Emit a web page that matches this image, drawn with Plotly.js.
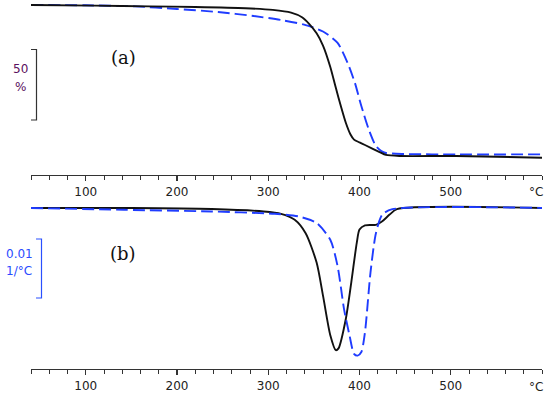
<!DOCTYPE html>
<html>
<head>
<meta charset="utf-8">
<script src="https://cdn.plot.ly/plotly-3.0.1.min.js"></script>
<style>html,body{margin:0;padding:0;background:#fff;}#chart{width:550px;height:397px;}</style>
</head>
<body>
<div id="chart"></div>
<script>
// (a) TG curves: temperature (°C) and residual mass (%)
var tgTempBlack = [40, 110, 170, 220, 275, 305, 325, 337, 345, 353, 360, 368, 374, 380, 385, 390, 394, 400, 406, 422, 429, 445, 506, 600];
var tgMassBlack = [100, 99.6, 99.1, 98.7, 97.9, 96.8, 95.0, 92.0, 87.5, 81.5, 73.5, 59.5, 46.0, 33.0, 23.0, 15.5, 12.0, 10.2, 8.5, 3.9, 2.0, 1.3, 1.3, 0.2];
var tgTempBlue = [40, 100, 154, 200, 245, 284, 314, 341, 360, 376, 387, 395, 402, 410, 418, 424, 429, 448, 506, 600];
var tgMassBlue = [100, 99.8, 99.1, 97.4, 95.4, 92.8, 90.2, 86.9, 82.7, 75.2, 62.1, 49.0, 34.0, 18.9, 7.8, 4.5, 3.3, 2.6, 2.35, 2.35];

// (b) DTG curves: temperature (°C) and derivative (1/°C)
var dtgTempBlack = [40, 150, 238, 295, 314, 329, 341, 353, 360, 368, 374, 377, 385, 391, 397, 400, 406, 418, 425, 433, 441, 600];
var dtgBlack = [0, 0, -0.00017, -0.00058, -0.00097, -0.00195, -0.0042, -0.0091, -0.0146, -0.0212, -0.0237, -0.0234, -0.0185, -0.0124, -0.0058, -0.0036, -0.0029, -0.0028, -0.0022, -0.0011, -0.0002, 0];
var dtgTempBlue = [40, 142, 238, 307, 333, 353, 368, 376, 383, 389, 394, 398, 402, 406, 412, 418, 425, 436, 600];
var dtgBlue = [0, -0.0003, -0.00058, -0.00097, -0.0014, -0.0025, -0.0053, -0.0097, -0.0168, -0.0212, -0.0243, -0.0246, -0.0240, -0.0207, -0.0108, -0.0042, -0.0011, -0.0002, 0];

// tick labels
var tickValues = [100, 200, 300, 400, 500];
var tickLabels = ["100", "200", "300", "400", "500"];
var unitLabel = "°C";

var W = 550, H = 397;
function px(X) { return X / W; }
function py(Y) { return 1 - Y / H; }

var BLACK = "#111111";
var BLUE = "#1f3cff";

var blackLine = { color: BLACK, width: 1.9, shape: "spline", smoothing: 0.7 };
var blueLine = { color: BLUE, width: 1.9, dash: "12px,5px", shape: "spline", smoothing: 0.7 };

var traces = [
  { x: tgTempBlue, y: tgMassBlue, xaxis: "x", yaxis: "y", mode: "lines", line: blueLine, hoverinfo: "skip" },
  { x: tgTempBlack, y: tgMassBlack, xaxis: "x", yaxis: "y", mode: "lines", line: blackLine, hoverinfo: "skip" },
  { x: dtgTempBlack, y: dtgBlack, xaxis: "x2", yaxis: "y2", mode: "lines", line: blackLine, hoverinfo: "skip" },
  { x: dtgTempBlue, y: dtgBlue, xaxis: "x2", yaxis: "y2", mode: "lines", line: blueLine, hoverinfo: "skip" }
];

function xaxisDef(anchor) {
  return {
    domain: [px(31), px(542)],
    range: [40, 600],
    anchor: anchor,
    showgrid: false, zeroline: false,
    showline: true, linecolor: "#333", linewidth: 1.2,
    ticks: "outside", ticklen: 5, tickwidth: 1.1, tickcolor: "#333",
    tickvals: tickValues, ticktext: tickLabels,
    tickfont: { family: "DejaVu Sans", size: 12, color: "#222" },
    minor: { tick0: 40, dtick: 20, ticks: "outside", ticklen: 3.5, tickwidth: 1, tickcolor: "#333", showgrid: false }
  };
}
function yaxisDef(domain, range, anchor) {
  return {
    domain: domain, range: range, anchor: anchor,
    showgrid: false, zeroline: false, showline: false, showticklabels: false, ticks: ""
  };
}

// pixel mapping: TG 100% at y=5px, 1.53 px per %; DTG 0 at y=208px, 6000 px per 1/°C
var layout = {
  width: W, height: H,
  margin: { l: 0, r: 0, t: 0, b: 0 },
  paper_bgcolor: "#fff", plot_bgcolor: "#fff",
  showlegend: false,
  xaxis: xaxisDef("y"),
  yaxis: yaxisDef([py(175), 1], [100 - 170 / 1.53, 100 + 5 / 1.53], "x"),
  xaxis2: xaxisDef("y2"),
  yaxis2: yaxisDef([py(369), py(195)], [-161 / 6000, 13 / 6000], "x2"),
  shapes: [
    { type: "path", xref: "paper", yref: "paper",
      path: "M " + px(31) + "," + py(49.5) + " L " + px(36.5) + "," + py(49.5) + " L " + px(36.5) + "," + py(120) + " L " + px(31) + "," + py(120),
      line: { color: "#333", width: 1.2 } },
    { type: "path", xref: "paper", yref: "paper",
      path: "M " + px(36) + "," + py(239) + " L " + px(41.5) + "," + py(239) + " L " + px(41.5) + "," + py(298) + " L " + px(36) + "," + py(298),
      line: { color: "#2a50ff", width: 1.2 } }
  ],
  annotations: [
    { xref: "paper", yref: "paper", x: px(123), y: py(57), text: "(a)", showarrow: false, xanchor: "center", yanchor: "middle",
      font: { family: "DejaVu Serif", size: 18, color: "#111" } },
    { xref: "paper", yref: "paper", x: px(123), y: py(253), text: "(b)", showarrow: false, xanchor: "center", yanchor: "middle",
      font: { family: "DejaVu Serif", size: 18, color: "#111" } },
    { xref: "paper", yref: "paper", x: px(20.5), y: py(69), text: "50", showarrow: false, xanchor: "center", yanchor: "middle",
      font: { family: "DejaVu Sans", size: 12, color: "#5a1060" } },
    { xref: "paper", yref: "paper", x: px(20.5), y: py(86.5), text: "%", showarrow: false, xanchor: "center", yanchor: "middle",
      font: { family: "DejaVu Sans", size: 12, color: "#5a1060" } },
    { xref: "paper", yref: "paper", x: px(19), y: py(254), text: "0.01", showarrow: false, xanchor: "center", yanchor: "middle",
      font: { family: "DejaVu Sans", size: 12, color: "#2b4bff" } },
    { xref: "paper", yref: "paper", x: px(19), y: py(271), text: "1/°C", showarrow: false, xanchor: "center", yanchor: "middle",
      font: { family: "DejaVu Sans", size: 12, color: "#2b4bff" } },
    { xref: "paper", yref: "paper", x: px(536), y: py(192), text: unitLabel, showarrow: false, xanchor: "center", yanchor: "middle",
      font: { family: "DejaVu Sans", size: 12, color: "#222" } },
    { xref: "paper", yref: "paper", x: px(536), y: py(387), text: unitLabel, showarrow: false, xanchor: "center", yanchor: "middle",
      font: { family: "DejaVu Sans", size: 12, color: "#222" } }
  ]
};

Plotly.newPlot("chart", traces, layout, { staticPlot: true, displayModeBar: false });
</script>
</body>
</html>
